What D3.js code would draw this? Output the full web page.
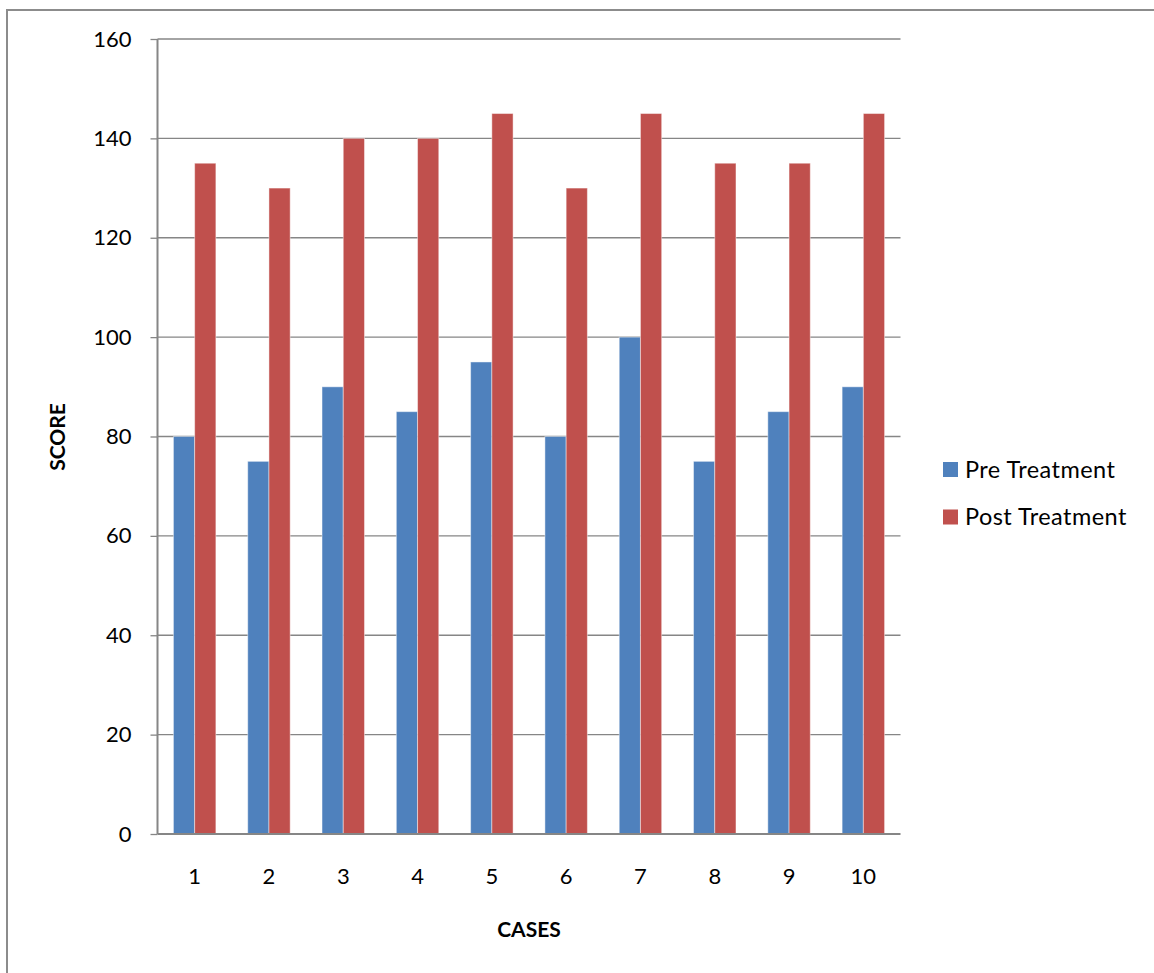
<!DOCTYPE html>
<html><head><meta charset="utf-8">
<script src="https://cdn.jsdelivr.net/npm/d3@7"></script>
<style>body{margin:0;background:#fff}svg{display:block}</style>
</head><body>
<svg id="c" width="1154" height="973"></svg>
<script>
const categories = ["1","2","3","4","5","6","7","8","9","10"];
const seriesNames = ["Pre Treatment","Post Treatment"];
const preValues = [80,75,90,85,95,80,100,75,85,90];
const postValues = [135,130,140,140,145,130,145,135,135,145];
const yTicks = [0,20,40,60,80,100,120,140,160];
const colors = ["#4F81BD","#C0504D"];

const svg = d3.select("#c");
const font = "Lato,'Open Sans',sans-serif";
const fs = 22;
// outer chart border
svg.append("rect").attr("x",7).attr("y",10).attr("width",1160).attr("height",980)
  .attr("fill","none").attr("stroke","#8c8c8c").attr("stroke-width",2);

const m = {l:157.5, r:900.5, t:39, b:834};
const x = d3.scaleBand().domain(categories).range([m.l,m.r]).paddingInner(1.5/3.5).paddingOuter(0.75/3.5);
const x1 = d3.scaleBand().domain(seriesNames).range([0,x.bandwidth()]);
const y = d3.scaleLinear().domain([0,160]).range([m.b,m.t]);

// gridlines
svg.append("g").selectAll("line").data(yTicks.filter(d=>d>0)).join("line")
  .attr("x1",m.l).attr("x2",m.r).attr("y1",d=>y(d)).attr("y2",d=>y(d))
  .attr("stroke","#868686").attr("stroke-width",1.3);

// bars
const data = categories.map((c,i)=>({c, vals:[preValues[i],postValues[i]]}));
const g = svg.append("g");
g.selectAll("g").data(data).join("g").attr("transform",d=>`translate(${x(d.c)},0)`)
  .selectAll("rect").data(d=>d.vals.map((v,j)=>({v,j}))).join("rect")
  .attr("x",d=>x1(seriesNames[d.j])).attr("width",x1.bandwidth())
  .attr("y",d=>y(d.v)).attr("height",d=>y(0)-y(d.v))
  .attr("fill",d=>colors[d.j]).attr("stroke","rgba(255,255,255,0.45)").attr("stroke-width",1);

// y axis
const yAxis = d3.axisLeft(y).tickValues(yTicks).tickSize(7).tickPadding(19);
const ya = svg.append("g").attr("transform",`translate(${m.l},0)`).call(yAxis);
ya.select(".domain").attr("stroke","#868686").attr("stroke-width",2).attr("d",`M0,${m.t}V${m.b}`);
ya.selectAll(".tick line").attr("stroke","#868686").attr("stroke-width",1.3);
ya.selectAll("text").attr("font-family",font).attr("font-size",fs).attr("fill","#000");

// x axis
const xAxis = d3.axisBottom(x).tickSize(0).tickPadding(34);
const xa = svg.append("g").attr("transform",`translate(0,${m.b})`).call(xAxis);
xa.select(".domain").attr("stroke","#868686").attr("stroke-width",2).attr("d",`M${m.l},0H${m.r}`);
xa.selectAll("text").attr("font-family",font).attr("font-size",fs).attr("fill","#000");

// axis titles
svg.append("text").attr("x",529).attr("y",937).attr("text-anchor","middle")
  .attr("font-family",font).attr("font-weight","bold").attr("font-size",21).text("CASES");
svg.append("text").attr("transform","translate(65,437) rotate(-90)").attr("text-anchor","middle")
  .attr("font-family",font).attr("font-weight","bold").attr("font-size",21).text("SCORE");

// legend
const lg = svg.append("g").selectAll("g").data(seriesNames).join("g")
  .attr("transform",(d,i)=>`translate(943,${462+i*47.5})`);
lg.append("rect").attr("width",15).attr("height",15).attr("fill",(d,i)=>colors[i]);
lg.append("text").attr("x",22).attr("y",15.5).attr("font-family",font).attr("font-size",23.5)
  .attr("letter-spacing",0.45).text(d=>d);
</script>
</body></html>
